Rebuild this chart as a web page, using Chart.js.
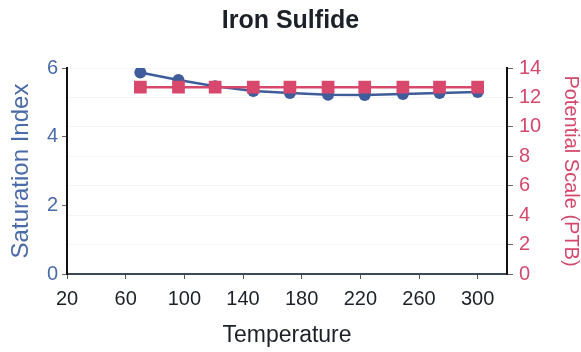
<!DOCTYPE html>
<html>
<head>
<meta charset="utf-8">
<title>Iron Sulfide</title>
<script src="https://cdn.jsdelivr.net/npm/chart.js@4/dist/chart.umd.min.js"></script>
<style>
    html, body { margin: 0; padding: 0; background: #ffffff; }
    #wrap { width: 581px; height: 352px; position: relative; }
</style>
</head>
<body>
<div id="wrap"><canvas id="ironChart"></canvas></div>
<script>
// ============================================
// IRON SULFIDE - saturation vs temperature
// ============================================

// Data
const temperatures = [70, 96, 121, 147, 172, 198, 223, 249, 274, 300];
const saturationIndex = [5.87, 5.65, 5.47, 5.33, 5.27, 5.22, 5.21, 5.24, 5.27, 5.30];
const potentialScale = [12.7, 12.7, 12.7, 12.7, 12.7, 12.7, 12.7, 12.7, 12.7, 12.7];

// Tick labels
const tempTicks = [20, 60, 100, 140, 180, 220, 260, 300];
const siTicks = [0, 2, 4, 6];
const ptbTicks = [0, 2, 4, 6, 8, 10, 12, 14];

// Colors
const BLUE = '#3f5d9b';
const RED = '#d8486c';
const BLUE_TEXT = '#4a6aa8';
const RED_TEXT = '#d4486c';
const DARK_TEXT = '#1c2129';

const FONT = "'Liberation Sans', Arial, sans-serif";

function toPoints(xs, ys) {
    return xs.map((x, i) => ({ x: x, y: ys[i] }));
}

function fixedTicks(values) {
    return function(scale) {
        scale.ticks = values.map(v => ({ value: v }));
    };
}

const ctx = document.getElementById('ironChart');

new Chart(ctx, {
    type: 'line',
    data: {
        datasets: [{
            label: 'Potential Scale (PTB)',
            data: toPoints(temperatures, potentialScale),
            yAxisID: 'yRight',
            borderColor: RED,
            backgroundColor: RED,
            borderWidth: 2.5,
            pointStyle: 'rect',
            pointRadius: 9,
            pointBorderWidth: 0,
            tension: 0,
            order: 0
        }, {
            label: 'Saturation Index',
            data: toPoints(temperatures, saturationIndex),
            yAxisID: 'yLeft',
            borderColor: BLUE,
            backgroundColor: BLUE,
            borderWidth: 2.5,
            pointStyle: 'circle',
            pointRadius: 6,
            pointBorderWidth: 0,
            tension: 0,
            order: 1
        }]
    },
    options: {
        responsive: true,
        maintainAspectRatio: false,
        animation: false,
        layout: { padding: 0 },
        plugins: {
            legend: { display: false },
            tooltip: { enabled: false },
            title: {
                display: true,
                text: 'Iron Sulfide',
                color: DARK_TEXT,
                font: { family: FONT, size: 25, weight: 'bold' },
                padding: { top: 6, bottom: 32 }
            }
        },
        scales: {
            x: {
                type: 'linear',
                position: 'bottom',
                min: 20,
                max: 320,
                afterBuildTicks: fixedTicks(tempTicks),
                afterFit: function(scale) { scale.height = 78; },
                border: { color: '#3d4858', width: 2 },
                grid: { drawOnChartArea: false, tickColor: '#555', tickLength: 5 },
                ticks: {
                    color: DARK_TEXT,
                    font: { family: FONT, size: 20 },
                    padding: 8,
                    maxRotation: 0
                },
                title: {
                    display: true,
                    text: 'Temperature',
                    color: DARK_TEXT,
                    font: { family: FONT, size: 23 },
                    padding: { top: 0, bottom: 3 }
                }
            },
            yLeft: {
                type: 'linear',
                position: 'left',
                min: 0,
                max: 6,
                afterBuildTicks: fixedTicks(siTicks),
                afterFit: function(scale) { scale.width = 67; },
                border: { color: '#111', width: 2 },
                grid: { drawOnChartArea: false, tickColor: '#666', tickLength: 5 },
                ticks: {
                    color: BLUE_TEXT,
                    font: { family: FONT, size: 20 },
                    padding: 4
                },
                title: {
                    display: true,
                    text: 'Saturation Index',
                    color: BLUE_TEXT,
                    font: { family: FONT, size: 24 },
                    padding: { top: 7, bottom: 0 }
                }
            },
            yRight: {
                type: 'linear',
                position: 'right',
                min: 0,
                max: 14,
                afterBuildTicks: fixedTicks(ptbTicks),
                afterFit: function(scale) { scale.width = 74; },
                border: { color: '#111', width: 2 },
                grid: { color: 'rgba(0,0,0,0.035)', tickColor: '#666', tickLength: 6 },
                ticks: {
                    color: RED_TEXT,
                    font: { family: FONT, size: 20 },
                    padding: 6
                },
                title: {
                    display: true,
                    text: 'Potential Scale (PTB)',
                    color: RED_TEXT,
                    font: { family: FONT, size: 20, lineHeight: 1 },
                    padding: { top: 0, bottom: 0 }
                }
            }
        }
    }
});
</script>
</body>
</html>
